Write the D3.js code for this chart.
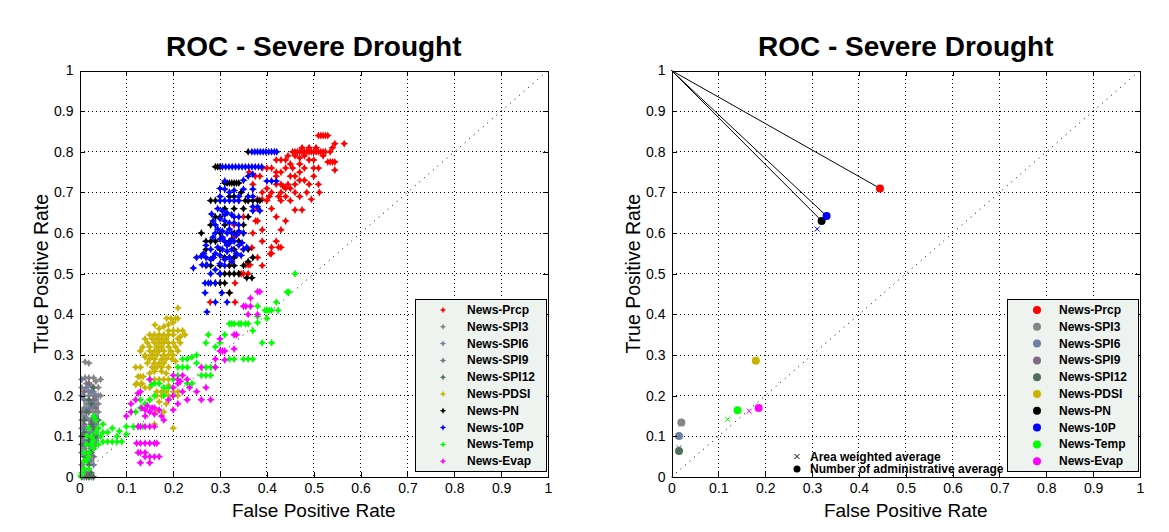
<!DOCTYPE html>
<html><head><meta charset="utf-8">
<script src="https://cdn.jsdelivr.net/npm/d3@7"></script>
<style>body{margin:0;background:#fff}svg{display:block}text{font-family:"Liberation Sans",Arial,sans-serif}</style>
</head><body><svg id="c" width="1169" height="532"></svg>
<script>
// ---------- DATA ----------
const seriesNames = ["News-Prcp","News-SPI3","News-SPI6","News-SPI9","News-SPI12","News-PDSI","News-PN","News-10P","News-Temp","News-Evap"];
const seriesColors = ["#ff0000","#858585","#6e7fa2","#806a80","#4e6e5e","#c8b400","#000000","#0000ff","#00ff00","#ff00ff"];
const tickValues = [0,0.1,0.2,0.3,0.4,0.5,0.6,0.7,0.8,0.9,1];
const tickLabels = ["0","0.1","0.2","0.3","0.4","0.5","0.6","0.7","0.8","0.9","1"];
const titleText = "ROC - Severe Drought";
const xLabel = "False Positive Rate", yLabel = "True Positive Rate";

// left panel: per-series scatter points [FPR, TPR]
const prcpPts = [[0.51,0.84],[0.515,0.84],[0.52,0.84],[0.525,0.84],[0.53,0.84],[0.545,0.82],[0.565,0.82],
[0.455,0.80],[0.46,0.80],[0.465,0.80],[0.47,0.80],[0.475,0.80],[0.48,0.80],[0.485,0.80],[0.49,0.80],[0.495,0.80],[0.50,0.80],[0.505,0.80],[0.51,0.80],[0.515,0.80],[0.52,0.80],[0.525,0.80],
[0.475,0.81],[0.49,0.81],[0.505,0.81],[0.43,0.78],[0.445,0.79],[0.46,0.79],[0.47,0.785],
[0.53,0.775],[0.535,0.775],[0.54,0.775],[0.545,0.775],[0.51,0.76],[0.545,0.755],
[0.42,0.75],[0.362,0.75],[0.375,0.74],[0.385,0.74],[0.44,0.76],[0.45,0.77],[0.455,0.76],[0.48,0.76],
[0.43,0.72],[0.435,0.715],[0.44,0.71],[0.445,0.72],[0.45,0.71],[0.46,0.72],[0.46,0.74],[0.51,0.72],
[0.485,0.70],[0.46,0.70],[0.512,0.70],[0.495,0.683],[0.40,0.68],[0.405,0.69],[0.425,0.69],[0.43,0.68],
[0.39,0.70],[0.40,0.71],[0.38,0.683],[0.39,0.683],[0.46,0.657],[0.475,0.657],[0.376,0.63],[0.38,0.63],
[0.39,0.608],[0.43,0.608],[0.41,0.565],[0.425,0.565],[0.43,0.565],[0.41,0.55],[0.368,0.564],
[0.34,0.50],[0.345,0.50],[0.35,0.50],[0.36,0.50],[0.33,0.59],[0.34,0.60],[0.407,0.549],[0.355,0.522],
[0.36,0.522],[0.364,0.522],[0.332,0.477],[0.32,0.453],[0.279,0.43],[0.332,0.43],[0.34,0.68],[0.35,0.64],
[0.33,0.62],[0.31,0.58],[0.35,0.56],[0.32,0.52],[0.36,0.68],[0.37,0.72],[0.39,0.76],[0.40,0.76],[0.41,0.76],
[0.42,0.78],[0.44,0.78],[0.47,0.77],[0.49,0.78],[0.5,0.76],[0.52,0.79],[0.535,0.80],[0.54,0.81],[0.42,0.72],[0.47,0.73],[0.49,0.72],
[0.42,0.74],[0.43,0.75],[0.45,0.74],[0.47,0.75],[0.48,0.73],[0.5,0.74],[0.44,0.69],[0.45,0.68],[0.47,0.69],[0.41,0.66],[0.42,0.64],
[0.44,0.63],[0.38,0.66],[0.37,0.6],[0.39,0.58],[0.42,0.58],[0.38,0.54],[0.39,0.52],[0.41,0.7],[0.43,0.7],[0.48,0.79],[0.5,0.78]];
const spi3Pts = [[0.02,0.28],[0.012,0.283],[0.012,0.244],[0.02,0.244],[0.03,0.244],[0.01,0.2],[0.02,0.2],[0.03,0.2],[0.04,0.2],
[0.015,0.18],[0.025,0.17],[0.03,0.16],[0.02,0.14],[0.035,0.13],[0.01,0.12],[0.02,0.1],[0.03,0.09],[0.01,0.07],[0.02,0.05],
[0.005,0.03],[0.015,0.01],[0.025,0.0],[0.04,0.22],[0.045,0.24],[0.035,0.19],[0.04,0.16],[0.03,0.21],
[0.005,0.22],[0.015,0.23],[0.025,0.225],[0.035,0.235],[0.01,0.17],[0.02,0.16],[0.03,0.175],[0.04,0.18],[0.045,0.2],
[0.005,0.14],[0.015,0.145],[0.03,0.14],[0.04,0.12],[0.025,0.12],[0.005,0.1],[0.035,0.08],[0.025,0.04],[0.01,0.0]];
const spi6Pts = [[0.005,0.24],[0.015,0.22],[0.025,0.21],[0.01,0.19],[0.02,0.17],[0.03,0.18],[0.01,0.15],[0.025,0.14],
[0.015,0.12],[0.03,0.11],[0.01,0.09],[0.02,0.08],[0.005,0.06],[0.02,0.04],[0.01,0.02],[0.03,0.03],[0.035,0.15],[0.04,0.1],
[0.005,0.2],[0.02,0.21],[0.035,0.2],[0.015,0.165],[0.03,0.13],[0.005,0.12],[0.02,0.11],[0.035,0.09],[0.01,0.08],[0.025,0.07]];
const spi9Pts = [[0.01,0.21],[0.02,0.16],[0.03,0.14],[0.01,0.13],[0.025,0.1],[0.015,0.08],[0.03,0.05],[0.01,0.04],[0.02,0.01],[0.035,0.17],
[0.02,0.23],[0.03,0.19],[0.005,0.16],[0.015,0.06]];
const spi12Pts = [[0.03,0.22],[0.02,0.19],[0.015,0.16],[0.025,0.13],[0.01,0.11],[0.02,0.09],[0.03,0.07],[0.01,0.05],
[0.02,0.03],[0.005,0.0],[0.015,0.0],[0.03,0.0],[0.025,0.06],[0.035,0.1],[0.04,0.14],[0.005,0.1],
[0.01,0.14],[0.025,0.18],[0.005,0.08],[0.015,0.04],[0.03,0.12],[0.02,0.0],[0.025,0.01]];
const pdsiPts = [[0.21,0.416],[0.186,0.39],[0.195,0.39],[0.205,0.39],[0.21,0.39],[0.161,0.374],[0.19,0.36],[0.20,0.36],[0.21,0.36],[0.22,0.36],
[0.15,0.35],[0.16,0.35],[0.17,0.35],[0.18,0.35],[0.19,0.35],[0.20,0.35],[0.14,0.34],[0.155,0.34],[0.165,0.34],[0.175,0.34],[0.185,0.34],[0.21,0.34],
[0.145,0.33],[0.16,0.33],[0.17,0.33],[0.18,0.33],[0.19,0.33],[0.20,0.33],[0.215,0.33],[0.135,0.32],[0.15,0.32],[0.165,0.32],[0.175,0.32],[0.19,0.32],[0.205,0.32],
[0.15,0.31],[0.16,0.31],[0.17,0.31],[0.18,0.31],[0.195,0.31],[0.21,0.31],[0.14,0.30],[0.155,0.30],[0.165,0.30],[0.18,0.30],[0.19,0.30],
[0.15,0.29],[0.16,0.29],[0.175,0.29],[0.185,0.29],[0.197,0.29],[0.145,0.28],[0.16,0.28],[0.17,0.28],[0.18,0.28],
[0.12,0.27],[0.13,0.27],[0.155,0.27],[0.165,0.27],[0.175,0.27],[0.19,0.27],[0.16,0.26],[0.175,0.26],[0.125,0.247],[0.13,0.247],[0.136,0.247],
[0.15,0.24],[0.16,0.24],[0.17,0.24],[0.18,0.24],[0.19,0.24],[0.12,0.227],[0.13,0.227],[0.122,0.23],[0.133,0.23],
[0.165,0.21],[0.175,0.21],[0.185,0.21],[0.2,0.21],[0.21,0.21],[0.165,0.2],[0.175,0.2],[0.19,0.2],[0.2,0.2],[0.21,0.2],[0.165,0.16],[0.18,0.16],
[0.2,0.38],[0.19,0.375],[0.17,0.365],[0.18,0.37],[0.225,0.35],[0.215,0.345],[0.13,0.31],[0.14,0.295],[0.2,0.3],[0.205,0.285],
[0.15,0.255],[0.185,0.255],[0.14,0.22],[0.15,0.22],[0.19,0.225],[0.17,0.185],[0.185,0.18],[0.15,0.19],[0.2,0.12],[0.16,0.13]];
const pnPts = [[0.36,0.80],[0.29,0.763],[0.295,0.763],[0.30,0.763],[0.31,0.723],[0.315,0.723],[0.32,0.723],[0.325,0.723],[0.33,0.723],[0.335,0.723],[0.34,0.723],
[0.32,0.69],[0.33,0.69],[0.28,0.68],[0.29,0.68],[0.354,0.68],[0.36,0.68],[0.37,0.68],[0.38,0.68],[0.385,0.68],[0.31,0.66],[0.33,0.66],
[0.29,0.64],[0.30,0.64],[0.28,0.62],[0.31,0.62],[0.30,0.60],[0.33,0.60],[0.35,0.60],[0.28,0.58],[0.29,0.58],[0.32,0.58],
[0.27,0.56],[0.30,0.56],[0.33,0.56],[0.36,0.56],[0.285,0.54],[0.31,0.54],[0.32,0.54],[0.33,0.54],[0.37,0.54],
[0.27,0.52],[0.28,0.52],[0.30,0.52],[0.32,0.52],[0.33,0.52],[0.30,0.50],[0.31,0.50],[0.32,0.50],[0.33,0.50],[0.34,0.50],
[0.357,0.49],[0.368,0.49],[0.29,0.477],[0.30,0.477],[0.31,0.477],[0.32,0.453],[0.35,0.62],[0.34,0.58],[0.36,0.64],
[0.345,0.70],[0.35,0.66],[0.26,0.6],[0.27,0.58],[0.35,0.52],[0.36,0.53]];
const tenPPts = [[0.368,0.80],[0.374,0.80],[0.38,0.80],[0.386,0.80],[0.392,0.80],[0.398,0.80],[0.404,0.80],[0.41,0.80],[0.416,0.80],[0.421,0.80],
[0.305,0.763],[0.312,0.763],[0.319,0.763],[0.326,0.763],[0.333,0.763],[0.34,0.763],[0.347,0.763],[0.354,0.763],[0.361,0.763],[0.368,0.763],[0.375,0.763],[0.382,0.763],[0.389,0.763],
[0.40,0.728],[0.41,0.728],[0.42,0.728],[0.31,0.728],[0.31,0.708],[0.35,0.708],[0.37,0.708],[0.30,0.69],[0.34,0.69],
[0.30,0.68],[0.31,0.68],[0.32,0.68],[0.33,0.68],[0.34,0.68],[0.37,0.665],[0.38,0.665],[0.282,0.647],[0.37,0.655],[0.385,0.655],
[0.295,0.66],[0.305,0.655],[0.315,0.65],[0.325,0.645],[0.30,0.635],[0.31,0.63],[0.32,0.625],[0.33,0.625],[0.34,0.62],
[0.295,0.61],[0.305,0.605],[0.315,0.60],[0.325,0.60],[0.335,0.595],[0.30,0.585],[0.31,0.58],[0.32,0.575],[0.33,0.58],
[0.295,0.565],[0.305,0.56],[0.315,0.555],[0.325,0.56],[0.335,0.55],[0.32,0.54],[0.335,0.545],[0.345,0.545],[0.35,0.56],
[0.347,0.576],[0.357,0.565],[0.25,0.54],[0.26,0.543],[0.27,0.54],[0.28,0.535],[0.286,0.54],[0.243,0.514],[0.262,0.522],[0.272,0.522],
[0.268,0.477],[0.275,0.477],[0.28,0.477],[0.29,0.477],[0.268,0.453],[0.304,0.453],[0.29,0.43],[0.315,0.43],[0.272,0.406],
[0.29,0.60],[0.285,0.59],[0.34,0.64],[0.35,0.60],[0.31,0.52],[0.30,0.50],
[0.29,0.62],[0.285,0.63],[0.31,0.645],[0.32,0.61],[0.33,0.64],[0.34,0.605],[0.305,0.59],[0.315,0.57],[0.325,0.585],[0.34,0.57],
[0.29,0.55],[0.3,0.545],[0.31,0.535],[0.325,0.53],[0.28,0.56],[0.27,0.57],[0.265,0.55],[0.3,0.525],[0.29,0.51],[0.28,0.5],
[0.32,0.7],[0.33,0.705],[0.35,0.73],[0.36,0.74],[0.37,0.745],[0.3,0.71],[0.36,0.69],[0.37,0.69]];
const tempPts = [[0.46,0.5],[0.443,0.455],[0.447,0.455],[0.396,0.41],[0.40,0.41],[0.405,0.41],[0.41,0.41],[0.424,0.41],[0.38,0.42],[0.38,0.395],
[0.32,0.377],[0.325,0.377],[0.33,0.377],[0.34,0.377],[0.345,0.377],[0.354,0.377],[0.36,0.377],[0.37,0.36],[0.31,0.35],[0.275,0.35],[0.27,0.33],
[0.39,0.33],[0.41,0.33],[0.32,0.29],[0.33,0.29],[0.35,0.29],[0.36,0.29],[0.37,0.29],[0.22,0.29],[0.23,0.29],[0.24,0.295],[0.25,0.30],
[0.27,0.27],[0.28,0.27],[0.29,0.27],[0.21,0.27],[0.22,0.27],[0.23,0.27],[0.26,0.25],[0.27,0.25],[0.28,0.25],[0.23,0.23],[0.24,0.23],
[0.16,0.23],[0.17,0.23],[0.154,0.227],[0.16,0.2],[0.18,0.2],[0.2,0.2],[0.13,0.19],[0.11,0.16],[0.1,0.124],[0.115,0.124],[0.125,0.124],[0.135,0.124],
[0.1,0.105],[0.085,0.113],[0.05,0.087],[0.06,0.087],[0.07,0.087],[0.08,0.087],[0.09,0.087],[0.05,0.11],[0.06,0.11],[0.04,0.12],[0.05,0.13],
[0.015,0.04],[0.02,0.06],[0.025,0.08],[0.03,0.09],[0.02,0.05],[0.03,0.07],[0.003,0.003],[0.01,0.02],[0.02,0.02],[0.015,0.1],[0.02,0.12],
[0.03,0.15],[0.12,0.16],[0.13,0.17],[0.14,0.18],[0.15,0.19],[0.19,0.22],[0.2,0.24],[0.21,0.25],
[0.01,0.06],[0.015,0.08],[0.01,0.04],[0.025,0.1],[0.035,0.11],[0.07,0.12],[0.08,0.1],[0.035,0.14],[0.04,0.08],[0.045,0.1],
[0.29,0.32],[0.3,0.33],[0.25,0.28],[0.18,0.22],[0.38,0.38],[0.4,0.39],[0.42,0.43],[0.005,0.01]];
const evapPts = [[0.38,0.456],[0.385,0.456],[0.365,0.44],[0.35,0.42],[0.355,0.42],[0.365,0.42],[0.36,0.40],[0.38,0.40],[0.33,0.35],[0.335,0.35],
[0.30,0.34],[0.33,0.315],[0.30,0.31],[0.305,0.31],[0.31,0.31],[0.29,0.29],[0.31,0.288],[0.26,0.27],[0.29,0.27],[0.22,0.25],[0.23,0.24],
[0.215,0.235],[0.20,0.25],[0.21,0.24],[0.20,0.22],[0.21,0.23],[0.15,0.24],[0.13,0.21],[0.235,0.22],[0.125,0.206],[0.11,0.18],[0.12,0.19],
[0.133,0.17],[0.14,0.165],[0.15,0.16],[0.16,0.17],[0.17,0.165],[0.175,0.15],[0.14,0.15],[0.16,0.155],[0.125,0.124],[0.13,0.124],[0.14,0.124],
[0.15,0.124],[0.16,0.124],[0.21,0.18],[0.23,0.19],[0.26,0.19],[0.28,0.19],[0.2,0.165],[0.122,0.083],[0.13,0.083],[0.14,0.083],[0.15,0.083],
[0.16,0.083],[0.165,0.083],[0.125,0.06],[0.13,0.06],[0.14,0.06],[0.14,0.05],[0.15,0.05],[0.16,0.05],[0.17,0.05],[0.13,0.035],[0.15,0.035],
[0.25,0.21],[0.27,0.22],[0.18,0.14],[0.19,0.19],[0.10,0.15],[0.11,0.16],[0.2,0.2],[0.22,0.21],[0.145,0.175],[0.155,0.17]];
const leftSeries = [prcpPts,spi3Pts,spi6Pts,spi9Pts,spi12Pts,pdsiPts,pnPts,tenPPts,tempPts,evapPts];

// right panel: averages per series [FPR, TPR] (null = not visible)
const numAvg  = [[0.445,0.71],[0.021,0.134],[0.016,0.101],null,[0.016,0.064],[0.18,0.286],[0.3205,0.63],[0.331,0.642],[0.141,0.164],[0.186,0.17]];
const areaAvg = [null,[0.021,0.13],null,null,[0.016,0.072],[0.18,0.29],null,[0.311,0.61],[0.12,0.142],[0.166,0.162]];
const curveSeries = [0,7,6]; // series connected to (0,1)
const noteLabels = ["Area weighted average","Number of administrative average"];

// ---------- DRAW ----------
const svg = d3.select("#c");
const panels = [{x0:79.5,x1:548,leg:415,mode:"scatter"},{x0:671.5,x1:1140,leg:1007,mode:"avg"}];
const yTop = 70.5, yBot = 477;
const star = "M0,-4L1.4,-1.4L4,0L1.4,1.4L0,4L-1.4,1.4L-4,0L-1.4,-1.4Z";

panels.forEach(p=>{
  const x = d3.scaleLinear().domain([0,1]).range([p.x0,p.x1]);
  const y = d3.scaleLinear().domain([0,1]).range([yBot,yTop]);
  const g = svg.append("g");
  g.append("rect").attr("x",p.x0).attr("y",yTop).attr("width",p.x1-p.x0).attr("height",yBot-yTop).attr("fill","#fff");
  const inner = tickValues.slice(1,-1);
  g.selectAll(".gv").data(inner).join("line").attr("x1",d=>x(d)).attr("x2",d=>x(d)).attr("y1",yTop).attr("y2",yBot)
    .attr("stroke","#000").attr("stroke-width",1).attr("stroke-dasharray","1,3").attr("shape-rendering","crispEdges");
  g.selectAll(".gh").data(inner).join("line").attr("y1",d=>y(d)).attr("y2",d=>y(d)).attr("x1",p.x0).attr("x2",p.x1)
    .attr("stroke","#000").attr("stroke-width",1).attr("stroke-dasharray","1,3").attr("shape-rendering","crispEdges");
  g.append("line").attr("x1",x(0)).attr("y1",y(0)).attr("x2",x(1)).attr("y2",y(1))
    .attr("stroke","#000").attr("stroke-width",1).attr("stroke-dasharray","1,5");

  if(p.mode==="scatter"){
    leftSeries.forEach((pts,i)=>{
      g.append("g").selectAll("path").data(pts).join("path")
        .attr("d",star).attr("transform",d=>`translate(${x(d[0])},${y(d[1])})`).attr("fill",seriesColors[i]);
    });
  } else {
    curveSeries.forEach(i=>{
      const d = numAvg[i];
      g.append("line").attr("x1",x(0)).attr("y1",y(1)).attr("x2",x(d[0])).attr("y2",y(d[1])).attr("stroke","#000").attr("stroke-width",1);
    });
    areaAvg.forEach((d,i)=>{ if(!d) return;
      g.append("path").attr("d","M-2.5,-2.5L2.5,2.5M-2.5,2.5L2.5,-2.5").attr("transform",`translate(${x(d[0])},${y(d[1])})`)
        .attr("stroke",seriesColors[i]).attr("stroke-width",1).attr("fill","none");
    });
    numAvg.forEach((d,i)=>{ if(!d) return;
      g.append("circle").attr("cx",x(d[0])).attr("cy",y(d[1])).attr("r",4).attr("fill",seriesColors[i]);
    });
    const nx = 797, ny = 456.5;
    g.append("path").attr("d","M-2.5,-2.5L2.5,2.5M-2.5,2.5L2.5,-2.5").attr("transform",`translate(${nx},${ny})`).attr("stroke","#000");
    g.append("circle").attr("cx",nx).attr("cy",ny+12.5).attr("r",3.5).attr("fill","#000");
    noteLabels.forEach((t,k)=>g.append("text").attr("x",nx+13).attr("y",ny+4+12.5*k).text(t)
      .attr("font-size","12px").attr("font-weight","bold").attr("fill","#000"));
  }

  const fmt = (d)=>tickLabels[tickValues.indexOf(d)];
  g.append("g").attr("transform",`translate(0,${yBot})`)
    .call(d3.axisBottom(x).tickValues(tickValues).tickFormat(fmt).tickSizeInner(-5).tickSizeOuter(0).tickPadding(6))
    .call(a=>a.selectAll("text").attr("font-size","14px").attr("font-family","'Liberation Sans',Arial,sans-serif"));
  g.append("g").attr("transform",`translate(${p.x0},0)`)
    .call(d3.axisLeft(y).tickValues(tickValues).tickFormat(fmt).tickSizeInner(-5).tickSizeOuter(0).tickPadding(6))
    .call(a=>a.selectAll("text").attr("font-size","14px").attr("font-family","'Liberation Sans',Arial,sans-serif"));
  g.append("g").attr("transform",`translate(0,${yTop})`)
    .call(d3.axisTop(x).tickValues(tickValues).tickFormat("").tickSizeInner(-5).tickSizeOuter(0));
  g.append("g").attr("transform",`translate(${p.x1},0)`)
    .call(d3.axisRight(y).tickValues(tickValues).tickFormat("").tickSizeInner(-5).tickSizeOuter(0));
  g.selectAll(".domain").attr("stroke","#000").attr("shape-rendering","crispEdges");
  g.selectAll(".tick line").attr("shape-rendering","crispEdges");

  const lx = p.leg, lw = p.x1 - 1.5 - p.leg, ly = 299, rowH = 16.8;
  g.append("rect").attr("x",lx).attr("y",ly).attr("width",lw).attr("height",172)
    .attr("fill","#eef3ef").attr("stroke","#000").attr("stroke-width",1).attr("shape-rendering","crispEdges");
  seriesNames.forEach((n,i)=>{
    const cy = ly + 11 + rowH*i;
    const mx = lx + (p.mode==="scatter"?28:30);
    if(p.mode==="scatter") g.append("path").attr("d","M0,-3.2L1,-1L3.2,0L1,1L0,3.2L-1,1L-3.2,0L-1,-1Z").attr("transform",`translate(${mx},${cy})`).attr("fill",seriesColors[i]);
    else g.append("circle").attr("cx",mx).attr("cy",cy).attr("r",4).attr("fill",seriesColors[i]);
    g.append("text").attr("x",lx+52).attr("y",cy+4).text(n)
      .attr("font-size","12px").attr("font-weight","bold").attr("fill","#000");
  });

  const cx = (p.x0+p.x1)/2;
  g.append("text").attr("x",cx).attr("y",56).attr("text-anchor","middle").text(titleText)
    .attr("font-size","28px").attr("font-weight","bold");
  g.append("text").attr("x",cx).attr("y",517).attr("text-anchor","middle").text(xLabel).attr("font-size","19px");
  g.append("text").attr("transform",`translate(${p.x0-32},${(yTop+yBot)/2}) rotate(-90)`).attr("text-anchor","middle")
    .text(yLabel).attr("font-size","19.5px");
});
</script></body></html>
